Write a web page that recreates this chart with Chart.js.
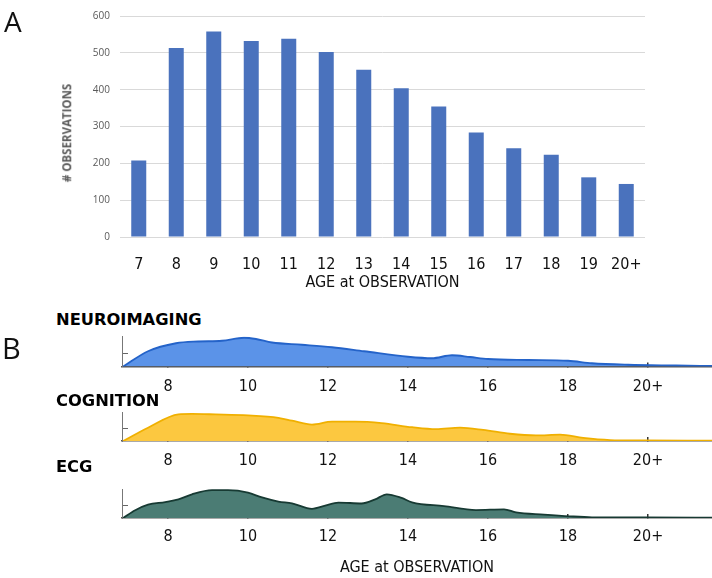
<!DOCTYPE html>
<html>
<head>
<meta charset="utf-8">
<script src="https://cdn.jsdelivr.net/npm/chart.js@4.4.1/dist/chart.umd.min.js"></script>
<style>
  body { margin: 0; background: #fff; }
  #wrap { position: relative; width: 712px; height: 578px; overflow: hidden; }
  canvas { position: absolute; left: 0; }
  .lbl { position: absolute; line-height: 1; white-space: nowrap; }
  .panel { font-family: 'Open Sans', sans-serif; font-size: 28px; color: #111; }
  .group { font-family: 'DejaVu Sans', sans-serif; font-weight: bold; font-size: 16.3px; color: #000; }
</style>
</head>
<body>
<div id="wrap">
  <canvas id="bars" width="712" height="296" style="top:0"></canvas>
  <canvas id="neuro" width="712" height="70" style="top:330px"></canvas>
  <canvas id="cog" width="712" height="68" style="top:405px"></canvas>
  <canvas id="ecg" width="712" height="96" style="top:482px"></canvas>

  <div class="lbl panel" style="left:4px; top:7px;">A</div>
  <div class="lbl panel" style="left:2px; top:333px; font-size:29px;">B</div>
  <div class="lbl" style="left:67px; top:133px; transform:translate(-50%,-50%) rotate(-90deg); font-family:'Open Sans',sans-serif; font-weight:bold; font-size:11.5px; color:#595959;"># OBSERVATIONS</div>
  <div class="lbl group" style="left:56px; top:312px;">NEUROIMAGING</div>
  <div class="lbl group" style="left:56px; top:393px;">COGNITION</div>
  <div class="lbl group" style="left:56px; top:459px;">ECG</div>
</div>
<script>
// panel A
ageLabels = ["7", "8", "9", "10", "11", "12", "13", "14", "15", "16", "17", "18", "19", "20+"];
observations = [208, 513, 558, 532, 538, 502, 454, 404, 354, 284, 241, 223, 162, 144];
yTicksA = [0, 100, 200, 300, 400, 500, 600];

// panel B: density curves
neuroAge = [6.88, 7.5, 8.2, 8.75, 9.35, 9.9, 10.2, 10.6, 11.35, 12.1, 12.9, 14.0, 14.6, 15.1, 15.55, 16.0, 17.0, 18.0, 18.6, 19.5, 20.7, 21.6];
neuroDensity = [0, 0.061, 0.093, 0.100, 0.103, 0.115, 0.110, 0.096, 0.087, 0.077, 0.061, 0.039, 0.033, 0.045, 0.038, 0.030, 0.026, 0.023, 0.013, 0.007, 0.004, 0.002];

cogAge = [6.88, 7.5, 8.26, 8.6, 9.18, 10.0, 10.76, 11.1, 11.6, 12.1, 12.68, 13.34, 14.1, 14.7, 15.3, 15.88, 16.55, 17.2, 17.8, 18.38, 19.05, 19.9, 21.6];
cogDensity = [0, 0.055, 0.110, 0.112, 0.110, 0.106, 0.096, 0.084, 0.068, 0.080, 0.080, 0.074, 0.057, 0.049, 0.055, 0.046, 0.030, 0.023, 0.026, 0.013, 0.004, 0.002, 0.001];

ecgAge = [6.88, 7.18, 7.5, 7.93, 8.26, 8.6, 9.1, 9.5, 10.0, 10.35, 10.76, 11.1, 11.6, 11.93, 12.26, 12.84, 13.18, 13.47, 13.84, 14.1, 14.9, 15.7, 16.4, 16.7, 17.4, 18.05, 18.6, 19.9, 21.6];
ecgDensity = [0, 0.032, 0.055, 0.066, 0.077, 0.098, 0.115, 0.115, 0.105, 0.085, 0.068, 0.061, 0.038, 0.051, 0.064, 0.060, 0.077, 0.098, 0.083, 0.065, 0.049, 0.033, 0.036, 0.023, 0.014, 0.007, 0.003, 0.002, 0.001];

var narrow = "'Liberation Sans Narrow', 'DejaVu Sans Condensed', sans-serif";

new Chart(document.getElementById("bars"), {
    type: 'bar',
    data: {
        labels: ageLabels,
        datasets: [{
            data: observations,
            backgroundColor: '#4a72bd',
            barPercentage: 0.4,
            categoryPercentage: 1
        }]
    },
    options: {
        responsive: false,
        animation: false,
        layout: { padding: { left: 0, right: 67, top: 5, bottom: 0 } },
        plugins: { legend: { display: false }, tooltip: { enabled: false } },
        scales: {
            x: {
                grid: { display: false },
                border: { display: false },
                ticks: { color: '#111', padding: 10, maxRotation: 0, minRotation: 0, autoSkip: false,
                         font: { family: narrow, size: 16, lineHeight: 1.2 } },
                title: {
                    display: true, text: 'AGE at OBSERVATION', color: '#111',
                    font: { family: narrow, size: 16, lineHeight: 1.2 },
                    padding: { top: 0, bottom: 4 }
                },
                afterFit: function (s) { s.height = 59; }
            },
            y: {
                min: 0, max: 600,
                afterBuildTicks: function (s) { s.ticks = yTicksA.map(function (v) { return { value: v }; }); },
                ticks: { color: '#595959', padding: 10, font: { family: "'Open Sans', sans-serif", size: 10 } },
                grid: { color: '#d9d9d9', drawTicks: false },
                border: { display: false },
                afterFit: function (s) { s.width = 120; }
            }
        }
    }
});

function renderDensity(id, ages, dens, fillColor, lineColor, padTop, axisHeight, labelPad, withTitle) {
    var pts = ages.map(function (a, i) { return { x: a, y: dens[i] }; });
    new Chart(document.getElementById(id), {
        type: 'line',
        data: {
            datasets: [{
                data: pts,
                fill: 'origin',
                backgroundColor: fillColor,
                borderColor: lineColor,
                borderWidth: 1.8,
                pointRadius: 0,
                cubicInterpolationMode: 'monotone'
            }]
        },
        options: {
            responsive: false,
            animation: false,
            layout: { padding: { left: 0, right: 0, top: padTop, bottom: 0 } },
            plugins: { legend: { display: false }, tooltip: { enabled: false } },
            scales: {
                x: {
                    type: 'linear',
                    z: 1,
                    min: 6.85, max: 21.6,
                    ticks: {
                        stepSize: 2, includeBounds: false, padding: labelPad, color: '#111',
                        maxRotation: 0, autoSkip: false,
                        font: { family: narrow, size: 16, lineHeight: 1.2 },
                        callback: function (v) { return v === 20 ? '20+' : v; }
                    },
                    grid: { drawOnChartArea: false, tickLength: -4, color: '#333', lineWidth: 1.5 },
                    border: { color: '#555', width: 1.5 },
                    title: {
                        display: withTitle, text: 'AGE at OBSERVATION', color: '#111',
                        font: { family: narrow, size: 16, lineHeight: 1.2 },
                        padding: { top: 0, bottom: 1 }
                    },
                    afterFit: function (s) { s.height = axisHeight; }
                },
                y: {
                    z: 1,
                    min: 0, max: 0.12,
                    ticks: { display: false, stepSize: 0.05 },
                    afterBuildTicks: function (s) { s.ticks = s.ticks.filter(function (t) { return t.value > 0 && t.value < 0.11; }); },
                    grid: { drawOnChartArea: false, tickLength: -6, color: '#666', lineWidth: 1 },
                    border: { color: '#777', width: 1 },
                    afterFit: function (s) { s.width = 122; }
                }
            }
        }
    });
}

renderDensity("neuro", neuroAge, neuroDensity, '#5b93e8', '#2463c9', 6.5, 33.5, 15, false);
renderDensity("cog", cogAge, cogDensity, '#fcc840', '#f0b000', 7, 32, 14, false);
renderDensity("ecg", ecgAge, ecgDensity, '#4b7c74', '#173a33', 7, 60, 13, true);
</script>
</body>
</html>
